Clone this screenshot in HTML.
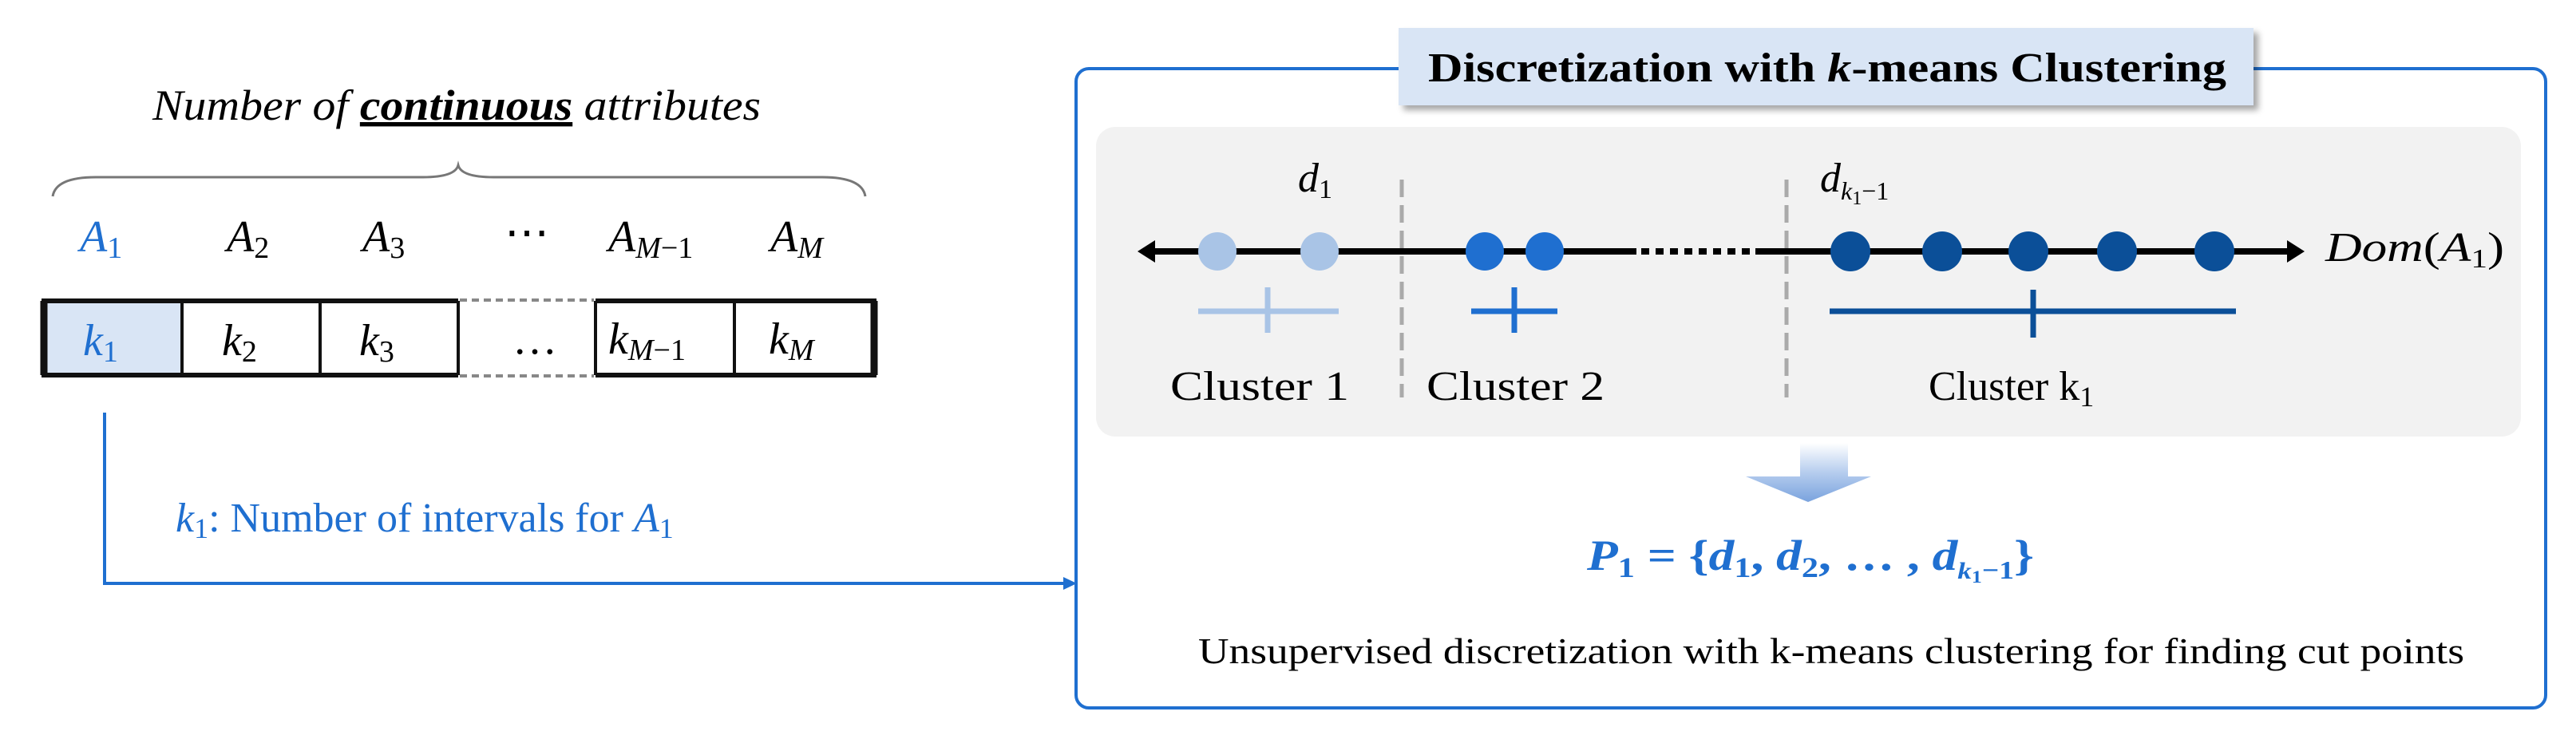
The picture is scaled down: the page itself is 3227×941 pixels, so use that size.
<!DOCTYPE html>
<html><head><meta charset="utf-8"><style>
html,body{margin:0;padding:0;background:#fff;}
svg{display:block;}
text{font-family:"Liberation Serif",serif;}
</style></head><body>
<svg width="3227" height="941" viewBox="0 0 3227 941" xmlns="http://www.w3.org/2000/svg">
<defs>
<linearGradient id="ag" x1="0" y1="0" x2="0" y2="1">
<stop offset="0" stop-color="#ffffff"/><stop offset="0.5" stop-color="#b6cdee"/><stop offset="1" stop-color="#7aa3de"/>
</linearGradient>
<filter id="sh" x="-5%" y="-20%" width="110%" height="150%"><feDropShadow dx="6" dy="6" stdDeviation="4" flood-color="#000" flood-opacity="0.35"/></filter>
</defs>

<text x="191" y="150" font-size="54" font-style="italic" textLength="762" lengthAdjust="spacingAndGlyphs">Number of <tspan font-weight="bold" text-decoration="underline">continuous</tspan> attributes</text>
<path d="M66,246 Q70,222 120,222 L530,222 Q570,222 574,207 Q578,222 618,222 L1030,222 Q1080,222 1084,246" fill="none" stroke="#777" stroke-width="3"/>

<g font-size="56" font-style="italic">
<text x="100" y="315" fill="#1f6fd0">A<tspan font-size="38" font-style="normal" dy="8">1</tspan></text>
<text x="284" y="315">A<tspan font-size="38" font-style="normal" dy="8">2</tspan></text>
<text x="454" y="315">A<tspan font-size="38" font-style="normal" dy="8">3</tspan></text>
<text x="632" y="310" font-style="normal">⋯</text>
<text x="762" y="315">A<tspan font-size="38" dy="8">M</tspan><tspan font-size="38" font-style="normal">−1</tspan></text>
<text x="965" y="315">A<tspan font-size="38" dy="8">M</tspan></text>
</g>

<rect x="55" y="377" width="173" height="93" fill="#d9e5f5"/>
<g stroke="#111" stroke-width="6" fill="none">
<path d="M574,377 L55,377 L55,470 L574,470"/>
<path d="M746,377 L1095,377 L1095,470 L746,470"/>
<line x1="228" y1="377" x2="228" y2="470" stroke-width="4"/>
<line x1="401" y1="377" x2="401" y2="470" stroke-width="4"/>
<line x1="574" y1="377" x2="574" y2="470" stroke-width="4"/>
<line x1="746" y1="377" x2="746" y2="470" stroke-width="4"/>
<line x1="920" y1="377" x2="920" y2="470" stroke-width="4"/>
</g>
<line x1="55" y1="377" x2="55" y2="470" stroke="#111" stroke-width="9"/>
<line x1="1095" y1="377" x2="1095" y2="470" stroke="#111" stroke-width="9"/>
<g stroke="#888" stroke-width="4" stroke-dasharray="9,6">
<line x1="576" y1="376" x2="744" y2="376"/><line x1="576" y1="471" x2="744" y2="471"/>
</g>
<g font-size="56" font-style="italic">
<text x="104" y="445" fill="#1f6fd0">k<tspan font-size="38" font-style="normal" dy="8">1</tspan></text>
<text x="278" y="445">k<tspan font-size="38" font-style="normal" dy="8">2</tspan></text>
<text x="450" y="445">k<tspan font-size="38" font-style="normal" dy="8">3</tspan></text>
<text x="642" y="443" font-style="normal">…</text>
<text x="762" y="443">k<tspan font-size="38" dy="8">M</tspan><tspan font-size="38" font-style="normal">−1</tspan></text>
<text x="963" y="443">k<tspan font-size="38" dy="8">M</tspan></text>
</g>

<path d="M131,517 L131,731 L1336,731" fill="none" stroke="#1f6fd0" stroke-width="4"/>
<polygon points="1349,731 1332,723 1332,739" fill="#1f6fd0"/>
<text x="220" y="666" font-size="52" fill="#1f6fd0"><tspan font-style="italic">k</tspan><tspan font-size="36" dy="8">1</tspan><tspan dy="-8">: Number of intervals for </tspan><tspan font-style="italic">A</tspan><tspan font-size="36" dy="8">1</tspan></text>

<rect x="1348" y="86" width="1841" height="801" rx="16" fill="none" stroke="#1f6fd0" stroke-width="4"/>
<rect x="1752" y="35" width="1071" height="97" fill="#d9e5f5" filter="url(#sh)"/>
<text x="1789" y="102" font-size="52" font-weight="bold" textLength="1000" lengthAdjust="spacingAndGlyphs">Discretization with <tspan font-style="italic">k</tspan>-means Clustering</text>

<rect x="1373" y="159" width="1785" height="388" rx="24" fill="#f2f2f2"/>

<g stroke="#aaa" stroke-width="5" stroke-dasharray="22,10">
<line x1="1756" y1="225" x2="1756" y2="498"/>
<line x1="2238" y1="225" x2="2238" y2="498"/>
</g>

<line x1="1440" y1="315" x2="2050" y2="315" stroke="#000" stroke-width="8"/>
<line x1="2056" y1="315" x2="2196" y2="315" stroke="#000" stroke-width="8" stroke-dasharray="10,8"/>
<line x1="2199" y1="315" x2="2872" y2="315" stroke="#000" stroke-width="8"/>
<polygon points="1425,315 1447,301 1447,329" fill="#000"/>
<polygon points="2887,315 2865,301 2865,329" fill="#000"/>

<g fill="#a9c4e6"><ellipse cx="1525" cy="315" rx="24" ry="24"/><ellipse cx="1653" cy="315" rx="24" ry="24"/></g>
<g fill="#1f6fd0"><ellipse cx="1860" cy="315" rx="24" ry="24"/><ellipse cx="1935" cy="315" rx="24" ry="24"/></g>
<g fill="#0b4f98"><ellipse cx="2318" cy="315" rx="25" ry="25"/><ellipse cx="2433" cy="315" rx="25" ry="25"/><ellipse cx="2541" cy="315" rx="25" ry="25"/><ellipse cx="2652" cy="315" rx="25" ry="25"/><ellipse cx="2774" cy="315" rx="25" ry="25"/></g>

<g stroke-width="7">
<line x1="1501" y1="390" x2="1677" y2="390" stroke="#a9c4e6"/><line x1="1588" y1="360" x2="1588" y2="417" stroke="#a9c4e6"/>
<line x1="1843" y1="390" x2="1951" y2="390" stroke="#1f6fd0"/><line x1="1897" y1="360" x2="1897" y2="417" stroke="#1f6fd0"/>
<line x1="2292" y1="390" x2="2801" y2="390" stroke="#0b4f98"/><line x1="2547" y1="363" x2="2547" y2="423" stroke="#0b4f98"/>
</g>

<g font-size="52" font-style="italic">
<text x="1626" y="240">d<tspan font-size="34" font-style="normal" dy="8">1</tspan></text>
<text x="2280" y="240">d<tspan font-size="32" dy="10">k</tspan><tspan font-size="24" font-style="normal" dy="6">1</tspan><tspan font-size="32" font-style="normal" dy="-6">−1</tspan></text>
<text x="2913" y="327" textLength="224" lengthAdjust="spacingAndGlyphs">Dom<tspan font-style="normal">(</tspan>A<tspan font-size="34" font-style="normal" dy="8">1</tspan><tspan font-style="normal" dy="-8">)</tspan></text>
</g>
<g font-size="52">
<text x="1466" y="501" textLength="224" lengthAdjust="spacingAndGlyphs">Cluster 1</text>
<text x="1787" y="501" textLength="223" lengthAdjust="spacingAndGlyphs">Cluster 2</text>
<text x="2416" y="501">Cluster k<tspan font-size="36" dy="8">1</tspan></text>
</g>

<polygon points="2255,555 2315,555 2315,597 2344,597 2265,629 2187,597 2255,597" fill="url(#ag)"/>

<text x="1988" y="714" font-size="54" font-weight="bold" font-style="italic" fill="#1f6fd0" textLength="560" lengthAdjust="spacingAndGlyphs">P<tspan font-size="36" font-style="normal" dy="9">1</tspan><tspan font-style="normal" dy="-9"> = {</tspan>d<tspan font-size="36" font-style="normal" dy="9">1</tspan><tspan font-style="normal" dy="-9">, </tspan>d<tspan font-size="36" font-style="normal" dy="9">2</tspan><tspan font-style="normal" dy="-9">, … , </tspan>d<tspan font-size="30" dy="11">k</tspan><tspan font-size="22" font-style="normal" dy="5">1</tspan><tspan font-size="32" font-style="normal" dy="-5">−1</tspan><tspan font-style="normal" dy="-11">}</tspan></text>

<text x="1501" y="831" font-size="46" textLength="1586" lengthAdjust="spacingAndGlyphs">Unsupervised  discretization with k-means clustering for finding cut points</text>
</svg>
</body></html>
